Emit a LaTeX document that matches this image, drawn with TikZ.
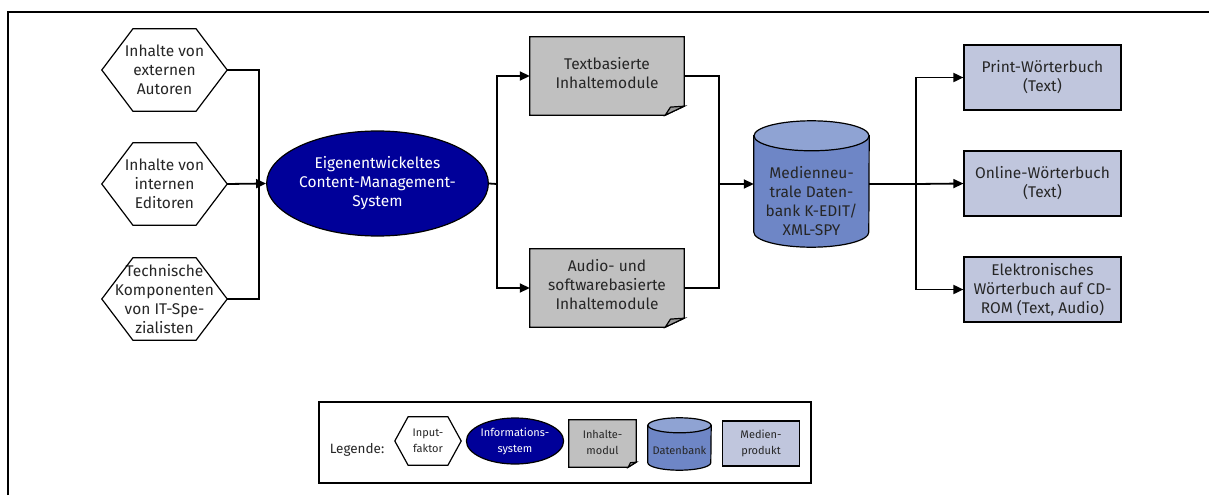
\documentclass[tikz,border=0pt]{standalone}
\usepackage{fontspec}
\setmainfont{Fira Sans}
\usetikzlibrary{arrows.meta,shapes.geometric,calc}
\definecolor{txt}{HTML}{262626}
\definecolor{cmsblue}{HTML}{000099}
\definecolor{modgray}{HTML}{C0C0C0}
\definecolor{foldgray}{HTML}{9A9A9A}
\definecolor{dbbody}{HTML}{6E86C6}
\definecolor{dbtop}{HTML}{8FA3D3}
\definecolor{medbox}{HTML}{C0C6DD}
\pgfdeclarelayer{bgzero}
\pgfdeclarelayer{background}
\pgfsetlayers{bgzero,background,main}
\newcommand\bigfont{\fontsize{15.5}{19}\selectfont}
\newcommand\smallfont{\fontsize{11}{16}\selectfont}
\newcommand\legfont{\fontsize{13.5}{16}\selectfont}
% hexagon outline around node #1, corner fraction #2
\newcommand\hexpath[2]{%
  \draw[shapeline] (#1.west) -- ($(#1.north west)!#2!(#1.north east)$)
    -- ($(#1.north east)!#2!(#1.north west)$) -- (#1.east)
    -- ($(#1.south east)!#2!(#1.south west)$)
    -- ($(#1.south west)!#2!(#1.south east)$) -- cycle;}
% module (document) shape: node #1, fold dx #2, fold dy #3
\newcommand\modpath[3]{%
  \filldraw[shapeline, fill=modgray] (#1.north west) -- (#1.north east)
    -- ($(#1.south east)+(0,#3)$) -- ($(#1.south east)+(-#2,0)$)
    -- (#1.south west) -- cycle;
  \filldraw[shapeline, fill=foldgray] ($(#1.south east)+(-#2,0)$)
    -- ($(#1.south east)+(-0.72*#2,0.9*#3)$) -- ($(#1.south east)+(0,#3)$) -- cycle;}
% cylinder: node #1, x radius #2, y radius #3
\newcommand\dbpath[3]{%
  \filldraw[shapeline, fill=dbbody] ($(#1.north west)+(0,-#3)$)
    -- ($(#1.south west)+(0,#3)$)
    arc[start angle=180, end angle=360, x radius=#2, y radius=#3]
    -- ($(#1.north east)+(0,-#3)$) -- cycle;
  \filldraw[shapeline, fill=dbtop] ($(#1.north)+(0,-#3)$)
    ellipse[x radius=#2, y radius=#3];}
\tikzset{
  lbl/.style={align=center, inner sep=0pt, text=txt},
  big/.style={lbl, font=\bigfont},
  small/.style={lbl, font=\smallfont},
  shapeline/.style={draw=black, line width=1.2pt, line join=miter},
  conn/.style={draw=black, line width=1.8pt},
  arr/.style={conn, -{Triangle[length=10pt,width=9pt]}},
  cms/.style={ellipse, draw=black, line width=1.2pt, fill=cmsblue, text=white, inner sep=0pt, align=center},
  media/.style={rectangle, draw=black, line width=1.2pt, fill=medbox},
}
\begin{document}
\begin{tikzpicture}[x=1pt,y=1pt]
\begin{pgfonlayer}{bgzero}
  \fill[white] (0,0) rectangle (1209,-495);
\end{pgfonlayer}
\useasboundingbox (0,0) rectangle (1209,-495);
\draw[line width=2.4pt] (8,-495) -- (8,-12) -- (1209,-12);

% input factors
\node[big, minimum width=125pt, minimum height=82pt] (h1) at (164.5,-70) {Inhalte von\\externen\\Autoren};
\node[big, minimum width=125pt, minimum height=82pt] (h2) at (164.5,-184) {Inhalte von\\internen\\Editoren};
\node[big, minimum width=125pt, minimum height=82pt] (h3) at (164.5,-299) {Technische\\Komponenten\\von IT-Spe-\\zialisten};
\hexpath{h1}{0.248}
\hexpath{h2}{0.248}
\hexpath{h3}{0.248}

% CMS
\node[cms, big, text=white, minimum width=173pt, minimum height=105pt] (cms) at (377.5,-183.5) {Eigenentwickeltes\\Content-Management-\\System};

% modules
\node[big, minimum width=154pt, minimum height=78pt] (m1) at (607,-76) {};
\node[big, minimum width=154pt, minimum height=78pt] (m2) at (607,-288) {};
\begin{pgfonlayer}{background}
\modpath{m1}{19}{9}
\modpath{m2}{19}{9}
\end{pgfonlayer}
\node[big] (m1t) at (607,-73) {Textbasierte\\Inhaltemodule};
\node[big] (m2t) at (607,-285) {Audio- und\\softwarebasierte\\Inhaltemodule};

% database
\node[minimum width=115pt, minimum height=126pt, inner sep=0pt] (db) at (811.5,-184) {};
\begin{pgfonlayer}{background}
\dbpath{db}{57.5}{15}
\end{pgfonlayer}
\node[big] (dbt) at (811.5,-201) {Medienneu-\\trale Daten-\\bank K-EDIT/\\XML-SPY};

% media products
\node[media, big, minimum width=157pt, minimum height=65pt] (p1) at (1042.5,-77.5) {Print-Wörterbuch\\(Text)};
\node[media, big, minimum width=157pt, minimum height=65pt] (p2) at (1042.5,-183.5) {Online-Wörterbuch\\(Text)};
\node[media, big, minimum width=157pt, minimum height=65pt] (p3) at (1042.5,-289.5) {Elektronisches\\Wörterbuch auf CD-\\ROM (Text, Audio)};

% junctions
\coordinate (j1) at (259,-184);
\coordinate (j2) at (497,-184);
\coordinate (j3) at (719,-184);
\coordinate (j4) at (916,-184);

\draw[conn] (h1.east) -| (j1);
\draw[conn] (h3.east) -| (j1);
\draw[arr] (h2.east) -- (cms.west);

\draw[conn] (cms.east) -- (j2);
\draw[arr] (j2) |- (m1.west);
\draw[arr] (j2) |- (m2.west);

\draw[conn] (m1.east) -| (j3);
\draw[conn] (m2.east) -| (j3);
\draw[arr] (j3) -- (db.west);

\draw[conn] (db.east) -- (j4);
\draw[arr] (j4) |- (p1.west);
\draw[arr] (j4) -- (p2.west);
\draw[arr] (j4) |- (p3.west);

% legend
\node[draw=black, line width=1.2pt, minimum width=492pt, minimum height=81pt, inner sep=0pt] (leg) at (565,-442.5) {};
\node[lbl, font=\legfont] (legt) at (357,-450) {Legende:};
\node[small, minimum width=66pt, minimum height=48pt] (lh) at (428,-441) {Input-\\faktor};
\hexpath{lh}{0.2}
\node[cms, small, text=white, minimum width=86pt, minimum height=46pt] (le) at (515,-441) {Informations-\\system};
\node[small, minimum width=67pt, minimum height=47pt] (lm) at (602.5,-443.5) {};
\begin{pgfonlayer}{background}
\modpath{lm}{8}{5}
\end{pgfonlayer}
\node[small] (lmt) at (602.5,-442) {Inhalte-\\modul};
\node[minimum width=63pt, minimum height=52pt, inner sep=0pt] (ld) at (679.5,-444) {};
\begin{pgfonlayer}{background}
\dbpath{ld}{31.5}{7.5}
\end{pgfonlayer}
\node[small] (ldt) at (679.5,-450) {Datenbank};
\node[media, small, minimum width=77pt, minimum height=45pt] (lp) at (761,-443.5) {Medien-\\produkt};
\end{tikzpicture}
\end{document}
